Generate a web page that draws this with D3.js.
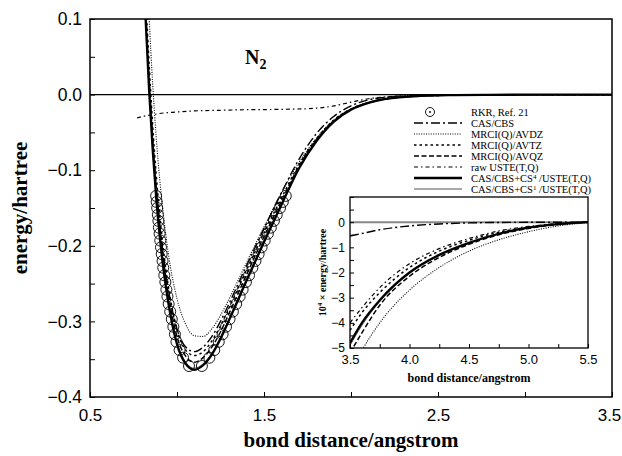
<!DOCTYPE html>
<html>
<head>
<meta charset="utf-8">
<script src="https://cdn.jsdelivr.net/npm/d3@7"></script>
<style>
    body { margin: 0; background: #fff; }
    svg { font-family: 'Liberation Serif', 'DejaVu Serif', serif; }
</style>
</head>
<body>
<svg id="chart" width="622" height="456"></svg>
<script>
// main panel: bond distance (angstrom) -> energy (hartree)
const dist = [0.80, 0.82, 0.84, 0.86, 0.88, 0.90, 0.92, 0.95, 1.00, 1.05, 1.10, 1.15, 1.20, 1.25, 1.30,
    1.40, 1.50, 1.60, 1.70, 1.80, 1.90, 2.00, 2.10, 2.20, 2.40, 2.60, 2.80, 3.00, 3.50];

const casCbs = [0.21, 0.105, 0.015, -0.060, -0.122, -0.170, -0.210, -0.257, -0.310, -0.334, -0.340, -0.334,
    -0.320, -0.300, -0.276, -0.226, -0.177, -0.130, -0.086, -0.052, -0.029, -0.015, -0.007, -0.0035,
    -0.0009, -0.0003, -0.0001, -0.00005, 0];
const mrciAvdz = [0.30, 0.20, 0.10, 0.015, -0.055, -0.110, -0.155, -0.210, -0.270, -0.304, -0.319, -0.320,
    -0.310, -0.292, -0.270, -0.222, -0.175, -0.130, -0.090, -0.058, -0.034, -0.019, -0.0105, -0.006,
    -0.0021, -0.0009, -0.0004, -0.0002, -0.00005];
const mrciAvtz = [0.24, 0.13, 0.04, -0.040, -0.105, -0.157, -0.202, -0.253, -0.311, -0.338, -0.345, -0.340,
    -0.326, -0.306, -0.282, -0.232, -0.183, -0.137, -0.093, -0.059, -0.034, -0.019, -0.0105, -0.0055,
    -0.0018, -0.0007, -0.0003, -0.00015, -0.00005];
const mrciAvqz = [0.22, 0.115, 0.022, -0.056, -0.120, -0.171, -0.214, -0.263, -0.320, -0.346, -0.354, -0.348,
    -0.334, -0.314, -0.289, -0.238, -0.188, -0.141, -0.095, -0.060, -0.035, -0.0195, -0.0107, -0.0056,
    -0.0018, -0.0007, -0.0003, -0.00015, -0.00005];
const cs4Uste = [0.20, 0.098, 0.005, -0.072, -0.135, -0.185, -0.227, -0.275, -0.330, -0.356, -0.364, -0.358,
    -0.344, -0.323, -0.298, -0.246, -0.195, -0.146, -0.098, -0.062, -0.036, -0.020, -0.011, -0.0058,
    -0.0018, -0.0007, -0.0003, -0.00015, -0.00005];
const cs1Uste = [0.20, 0.099, 0.007, -0.070, -0.133, -0.183, -0.225, -0.273, -0.328, -0.354, -0.362, -0.356,
    -0.342, -0.321, -0.296, -0.244, -0.193, -0.144, -0.097, -0.061, -0.035, -0.020, -0.011, -0.0057,
    -0.0018, -0.0007, -0.0003, -0.00015, -0.00005];

// raw USTE(T,Q) has its own grid
const rawDist = [0.77, 0.80, 0.85, 0.90, 1.00, 1.10, 1.20, 1.40, 1.60, 1.80, 1.90, 2.00, 2.10, 2.20, 2.40, 2.60, 3.00, 3.50];
const rawUste = [-0.031, -0.029, -0.027, -0.025, -0.023, -0.0215, -0.021, -0.020, -0.0195, -0.018, -0.015,
    -0.010, -0.0055, -0.003, -0.001, -0.0004, -0.0001, 0];

// RKR turning points, Ref. 21
const rkrEnergy = [-0.359, -0.348, -0.338, -0.327, -0.317, -0.307, -0.297, -0.287, -0.277, -0.267, -0.258, -0.248,
    -0.239, -0.229, -0.220, -0.211, -0.202, -0.193, -0.184, -0.176, -0.167, -0.159, -0.150, -0.142, -0.134];
const rkrInner = [1.069, 1.035, 1.015, 0.997, 0.988, 0.979, 0.970, 0.961, 0.952, 0.945, 0.939, 0.933,
    0.927, 0.921, 0.917, 0.912, 0.908, 0.904, 0.900, 0.896, 0.893, 0.890, 0.886, 0.883, 0.880];
const rkrOuter = [1.143, 1.186, 1.214, 1.240, 1.262, 1.282, 1.302, 1.321, 1.340, 1.360, 1.377, 1.396,
    1.414, 1.433, 1.451, 1.469, 1.486, 1.504, 1.522, 1.539, 1.557, 1.573, 1.592, 1.608, 1.625];

// inset: long range part, energy in 10^-4 hartree
const insetDist = [3.5, 3.6, 3.75, 4.0, 4.25, 4.5, 4.75, 5.0, 5.25, 5.5];
const insetCas = [-0.55, -0.45, -0.3, -0.15, -0.07, -0.03, -0.012, -0.005, -0.001, 0];
const insetAvdz = [-6.0, -5.1, -4.0, -2.7, -1.8, -1.15, -0.7, -0.38, -0.15, -0.02];
const insetAvtz = [-4.3, -3.6, -2.8, -1.8, -1.15, -0.72, -0.4, -0.2, -0.07, 0];
const insetAvqz = [-5.2, -4.4, -3.3, -2.15, -1.4, -0.88, -0.5, -0.25, -0.09, 0];
const insetRaw = [-4.0, -3.4, -2.6, -1.65, -1.05, -0.65, -0.35, -0.17, -0.06, 0];
const insetCs4 = [-4.8, -4.0, -3.1, -2.0, -1.3, -0.82, -0.46, -0.22, -0.08, 0];
const insetCs1 = [-4.9, -4.1, -3.15, -2.03, -1.32, -0.83, -0.47, -0.23, -0.08, 0];

const xTicks = [0.5, 1.0, 1.5, 2.0, 2.5, 3.0, 3.5];
const yTicks = [0.1, 0.05, 0.0, -0.05, -0.1, -0.15, -0.2, -0.25, -0.3, -0.35, -0.4];
const insetXTicks = [3.5, 3.75, 4.0, 4.25, 4.5, 4.75, 5.0, 5.25, 5.5];
const insetYTicks = [1, 0.5, 0, -0.5, -1, -1.5, -2, -2.5, -3, -3.5, -4, -4.5, -5];

const legendLabels = ['RKR, Ref. 21', 'CAS/CBS', 'MRCI(Q)/AVDZ', 'MRCI(Q)/AVTZ', 'MRCI(Q)/AVQZ',
    'raw USTE(T,Q)', 'CAS/CBS+CS4 /USTE(T,Q)', 'CAS/CBS+CS1 /USTE(T,Q)'];

// line styles, same order as legend (after RKR)
const styles = {
    cas: {width: 1.4, dash: '9,3,2,3', color: '#000'},
    avdz: {width: 1.1, dash: '1,1.4', color: '#000'},
    avtz: {width: 1.5, dash: '2.5,3', color: '#000'},
    avqz: {width: 1.5, dash: '5,2.5', color: '#000'},
    raw: {width: 1.2, dash: '4,3,1.5,3', color: '#000'},
    cs4: {width: 2.3, dash: null, color: '#000'},
    cs1: {width: 1.0, dash: null, color: '#555'}
};

const svg = d3.select('#chart');

const x = d3.scaleLinear().domain([0.5, 3.5]).range([90, 612]);
const y = d3.scaleLinear().domain([-0.4, 0.1]).range([397, 19]);

svg.append('clipPath').attr('id', 'mainClip')
    .append('rect').attr('x', 90).attr('y', 19).attr('width', 522).attr('height', 378);

// zero line
svg.append('line')
    .attr('x1', x(0.5)).attr('x2', x(3.5))
    .attr('y1', y(0)).attr('y2', y(0))
    .attr('stroke', '#000').attr('stroke-width', 1.2);

function drawSeries(g, xs, ys, style, xScale, yScale) {
    const line = d3.line()
        .x((d, i) => xScale(xs[i]))
        .y(d => yScale(d))
        .curve(d3.curveMonotoneX);
    g.append('path')
        .attr('d', line(ys))
        .attr('fill', 'none')
        .attr('stroke', style.color)
        .attr('stroke-width', style.width)
        .attr('stroke-dasharray', style.dash);
}

const plot = svg.append('g').attr('clip-path', 'url(#mainClip)');

drawSeries(plot, rawDist, rawUste, styles.raw, x, y);
drawSeries(plot, dist, mrciAvdz, styles.avdz, x, y);
drawSeries(plot, dist, casCbs, styles.cas, x, y);
drawSeries(plot, dist, mrciAvtz, styles.avtz, x, y);
drawSeries(plot, dist, mrciAvqz, styles.avqz, x, y);
drawSeries(plot, dist, cs1Uste, styles.cs1, x, y);
drawSeries(plot, dist, cs4Uste, styles.cs4, x, y);

const rkrPoints = rkrEnergy.map((e, i) => ({r: rkrInner[i], e: e}))
    .concat(rkrEnergy.map((e, i) => ({r: rkrOuter[i], e: e})));

plot.selectAll('circle.rkr')
    .data(rkrPoints)
    .enter().append('circle')
    .attr('class', 'rkr')
    .attr('cx', d => x(d.r))
    .attr('cy', d => y(d.e))
    .attr('r', 5.5)
    .attr('fill', 'none')
    .attr('stroke', '#000')
    .attr('stroke-width', 0.9);

// axes, ticks pointing inwards
const fmt1 = d3.format('.1f');

svg.append('g')
    .attr('transform', `translate(0, ${y(-0.4)})`)
    .call(d3.axisBottom(x).tickValues(xTicks).tickSizeInner(-5).tickSizeOuter(0).tickPadding(12)
        .tickFormat((d, i) => i % 2 === 0 ? fmt1(d) : ''))
    .call(g => g.select('.domain').remove())
    .call(g => g.selectAll('text').attr('font-size', 17).attr('font-family', null))
    .call(g => g.selectAll('text').filter(d => d === 3.5).attr('dx', -3));

svg.append('g')
    .attr('transform', `translate(${x(0.5)}, 0)`)
    .call(d3.axisLeft(y).tickValues(yTicks).tickSizeInner(-5).tickSizeOuter(0).tickPadding(8)
        .tickFormat((d, i) => i % 2 === 0 ? fmt1(d) : ''))
    .call(g => g.select('.domain').remove())
    .call(g => g.selectAll('text').attr('font-size', 17.5).attr('font-family', null));

svg.append('rect')
    .attr('x', 90).attr('y', 19).attr('width', 522).attr('height', 378)
    .attr('fill', 'none').attr('stroke', '#000').attr('stroke-width', 1.5);

svg.append('text')
    .attr('x', x(2.0)).attr('y', 447)
    .attr('text-anchor', 'middle')
    .attr('font-size', 21).attr('font-weight', 'bold')
    .text('bond distance/angstrom');

svg.append('text')
    .attr('transform', `translate(27, ${y(-0.15)}) rotate(-90)`)
    .attr('text-anchor', 'middle')
    .attr('font-size', 21).attr('font-weight', 'bold')
    .text('energy/hartree');

const title = svg.append('text')
    .attr('x', 245).attr('y', 64)
    .attr('font-size', 20).attr('font-weight', 'bold');
title.append('tspan').text('N');
title.append('tspan').attr('font-size', 14).attr('dy', 5).text('2');

// legend
const legend = svg.append('g').attr('font-size', 10.5);
const legendStyles = [null, styles.cas, styles.avdz, styles.avtz, styles.avqz, styles.raw, styles.cs4, styles.cs1];
legendLabels.forEach((label, i) => {
    const ly = 112 + i * 11;
    if (i === 0) {
        legend.append('circle').attr('cx', 430).attr('cy', ly).attr('r', 4.5)
            .attr('fill', 'none').attr('stroke', '#000').attr('stroke-width', 0.9);
        legend.append('circle').attr('cx', 430).attr('cy', ly).attr('r', 0.9).attr('fill', '#000');
    } else {
        const s = legendStyles[i];
        legend.append('line')
            .attr('x1', 414).attr('x2', 462).attr('y1', ly).attr('y2', ly)
            .attr('stroke', s.color).attr('stroke-width', s.width).attr('stroke-dasharray', s.dash);
    }
    const t = legend.append('text').attr('x', 471).attr('y', ly + 3.5);
    const m = label.match(/^(.*CS)(\d) (.*)$/);
    if (m) {
        t.append('tspan').text(m[1]);
        t.append('tspan').attr('font-size', 7).attr('dy', -3).text(m[2]);
        t.append('tspan').attr('dy', 3).text('\u00a0' + m[3]);
    } else {
        t.text(label);
    }
});

// inset
const ix = d3.scaleLinear().domain([3.5, 5.5]).range([350, 588]);
const iy = d3.scaleLinear().domain([-5, 1]).range([348, 197]);

svg.append('rect')
    .attr('x', 350).attr('y', 197).attr('width', 238).attr('height', 151)
    .attr('fill', '#fff');

svg.append('clipPath').attr('id', 'insetClip')
    .append('rect').attr('x', 350).attr('y', 197).attr('width', 238).attr('height', 151);

const inset = svg.append('g').attr('clip-path', 'url(#insetClip)');

inset.append('line')
    .attr('x1', ix(3.5)).attr('x2', ix(5.5)).attr('y1', iy(0)).attr('y2', iy(0))
    .attr('stroke', '#888').attr('stroke-width', 2);

drawSeries(inset, insetDist, insetCas, styles.cas, ix, iy);
drawSeries(inset, insetDist, insetAvdz, styles.avdz, ix, iy);
drawSeries(inset, insetDist, insetAvtz, styles.avtz, ix, iy);
drawSeries(inset, insetDist, insetAvqz, styles.avqz, ix, iy);
drawSeries(inset, insetDist, insetRaw, styles.raw, ix, iy);
drawSeries(inset, insetDist, insetCs1, styles.cs1, ix, iy);
drawSeries(inset, insetDist, insetCs4, styles.cs4, ix, iy);

svg.append('g')
    .attr('transform', `translate(0, ${iy(-5)})`)
    .call(d3.axisBottom(ix).tickValues(insetXTicks).tickSizeInner(-4).tickSizeOuter(0).tickPadding(7)
        .tickFormat((d, i) => i % 2 === 0 ? fmt1(d) : ''))
    .call(g => g.select('.domain').remove())
    .call(g => g.selectAll('text').attr('font-size', 13).attr('font-family', null));

svg.append('g')
    .attr('transform', `translate(${ix(3.5)}, 0)`)
    .call(d3.axisLeft(iy).tickValues(insetYTicks).tickSizeInner(-4).tickSizeOuter(0).tickPadding(5)
        .tickFormat(d => Number.isInteger(d) && d < 1 ? d3.format('d')(d) : ''))
    .call(g => g.select('.domain').remove())
    .call(g => g.selectAll('text').attr('font-size', 12).attr('font-family', null));

svg.append('rect')
    .attr('x', 350).attr('y', 197).attr('width', 238).attr('height', 151)
    .attr('fill', 'none').attr('stroke', '#000').attr('stroke-width', 1.3);

svg.append('text')
    .attr('x', ix(4.5)).attr('y', 382)
    .attr('text-anchor', 'middle')
    .attr('font-size', 12).attr('font-weight', 'bold')
    .text('bond distance/angstrom');

const iyLabel = svg.append('text')
    .attr('transform', `translate(326, ${iy(-2)}) rotate(-90)`)
    .attr('text-anchor', 'middle')
    .attr('font-size', 10).attr('font-weight', 'bold');
iyLabel.append('tspan').text('10');
iyLabel.append('tspan').attr('font-size', 7).attr('dy', -4).text('4');
iyLabel.append('tspan').attr('dy', 4).text('\u00a0\u00d7 energy/hartree');
</script>
</body>
</html>
